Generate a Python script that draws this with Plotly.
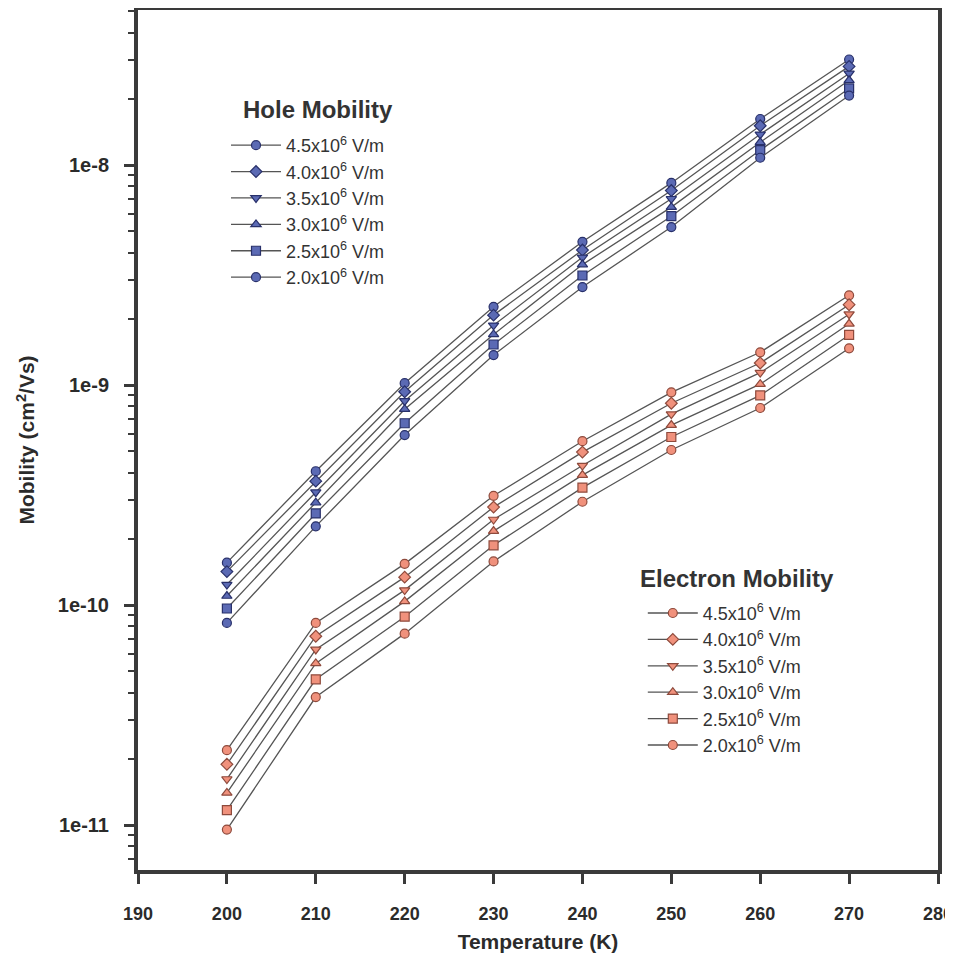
import plotly.graph_objects as go

temperature = [200, 210, 220, 230, 240, 250, 260, 270]
field_labels = ["4.5x10<sup>6</sup> V/m", "4.0x10<sup>6</sup> V/m", "3.5x10<sup>6</sup> V/m",
                "3.0x10<sup>6</sup> V/m", "2.5x10<sup>6</sup> V/m", "2.0x10<sup>6</sup> V/m"]
symbols = ["circle", "diamond", "triangle-down", "triangle-up", "square", "circle"]

hole_45 = [1.56e-10, 4.06e-10, 1.02e-9, 2.27e-9, 4.48e-9, 8.30e-9, 1.62e-8, 3.02e-8]
hole_40 = [1.42e-10, 3.66e-10, 9.33e-10, 2.08e-9, 4.11e-9, 7.66e-9, 1.51e-8, 2.81e-8]
hole_35 = [1.24e-10, 3.26e-10, 8.47e-10, 1.87e-9, 3.81e-9, 7.03e-9, 1.38e-8, 2.61e-8]
hole_30 = [1.10e-10, 2.92e-10, 7.77e-10, 1.70e-9, 3.53e-9, 6.44e-9, 1.27e-8, 2.43e-8]
hole_25 = [9.65e-11, 2.61e-10, 6.71e-10, 1.53e-9, 3.15e-9, 5.86e-9, 1.17e-8, 2.23e-8]
hole_20 = [8.30e-11, 2.28e-10, 5.93e-10, 1.37e-9, 2.79e-9, 5.23e-9, 1.08e-8, 2.07e-8]

elec_45 = [2.19e-11, 8.30e-11, 1.54e-10, 3.14e-10, 5.56e-10, 9.27e-10, 1.41e-9, 2.56e-9]
elec_40 = [1.89e-11, 7.22e-11, 1.34e-10, 2.79e-10, 4.96e-10, 8.27e-10, 1.26e-9, 2.32e-9]
elec_35 = [1.62e-11, 6.29e-11, 1.17e-10, 2.45e-10, 4.31e-10, 7.38e-10, 1.14e-9, 2.10e-9]
elec_30 = [1.40e-11, 5.43e-11, 1.04e-10, 2.17e-10, 3.90e-10, 6.58e-10, 1.01e-9, 1.90e-9]
elec_25 = [1.17e-11, 4.60e-11, 8.86e-11, 1.87e-10, 3.42e-10, 5.81e-10, 8.98e-10, 1.69e-9]
elec_20 = [9.54e-12, 3.82e-11, 7.42e-11, 1.58e-10, 2.95e-10, 5.07e-10, 7.87e-10, 1.47e-9]

hole_series = [hole_45, hole_40, hole_35, hole_30, hole_25, hole_20]
elec_series = [elec_45, elec_40, elec_35, elec_30, elec_25, elec_20]

y_tickvals = [1e-11, 1e-10, 1e-9, 1e-8]
y_ticktext = ["1e-11", "1e-10", "1e-9", "1e-8"]
x_tickvals = [190, 200, 210, 220, 230, 240, 250, 260, 270, 280]

fig = go.Figure()
line_col = "#555555"
for name, sym, vals in zip(field_labels, symbols, hole_series):
    fig.add_trace(go.Scatter(
        x=temperature, y=vals, mode="lines+markers", name=name, legend="legend",
        line=dict(color=line_col, width=1.3),
        marker=dict(symbol=sym, size=9, color="#5b6ab4", line=dict(color="#28306a", width=1.2)),
    ))
for name, sym, vals in zip(field_labels, symbols, elec_series):
    fig.add_trace(go.Scatter(
        x=temperature, y=vals, mode="lines+markers", name=name, legend="legend2",
        line=dict(color=line_col, width=1.3),
        marker=dict(symbol=sym, size=9, color="#f0917c", line=dict(color="#8e4a3c", width=1.2)),
    ))

axis_col = "#3a3a3a"
fontfam = "Liberation Sans, Arial, sans-serif"
fig.update_layout(
    width=945, height=952,
    margin=dict(l=130, r=15, t=2, b=90),
    paper_bgcolor="white", plot_bgcolor="white",
    font=dict(family=fontfam, color="#2b2b2b"),
    showlegend=True,
    legend=dict(
        x=0.11, y=0.864, xanchor="left", yanchor="top",
        font=dict(size=18, color="#333333"), bgcolor="rgba(0,0,0,0)",
        itemwidth=50, tracegroupgap=0,
    ),
    legend2=dict(
        x=0.631, y=0.320, xanchor="left", yanchor="top",
        font=dict(size=18, color="#333333"), bgcolor="rgba(0,0,0,0)",
        itemwidth=50, tracegroupgap=0,
    ),
    annotations=[
        dict(text="<b>Hole Mobility</b>", xref="paper", yref="paper", x=0.225, y=0.884,
             xanchor="center", yanchor="middle", showarrow=False,
             font=dict(size=24, color="#333333", family=fontfam)),
        dict(text="<b>Electron Mobility</b>", xref="paper", yref="paper", x=0.749, y=0.3395,
             xanchor="center", yanchor="middle", showarrow=False,
             font=dict(size=24, color="#333333", family=fontfam)),
    ],
    xaxis=dict(
        range=[190, 280], tickvals=x_tickvals, ticks="outside", ticklen=10, tickwidth=3,
        tickcolor=axis_col, showline=True, linewidth=4, linecolor=axis_col, mirror=True,
        showgrid=False, zeroline=False, automargin=False, ticklabelstandoff=14,
        ticklabeloverflow="allow",
        tickfont=dict(size=18, family=fontfam, color="#2b2b2b", weight="bold"),
        title=dict(text="<b>Temperature (K)</b>", font=dict(size=21), standoff=13),
    ),
    yaxis=dict(
        type="log", range=[-11.204, -7.295], tickvals=y_tickvals, ticktext=y_ticktext,
        ticks="outside", ticklen=10, tickwidth=3, tickcolor=axis_col,
        minor=dict(ticks="outside", ticklen=6, tickwidth=2, tickcolor=axis_col, dtick="D1"),
        showline=True, linewidth=4, linecolor=axis_col, mirror=True,
        showgrid=False, zeroline=False, automargin=False, ticklabelstandoff=11,
        tickfont=dict(size=20, family=fontfam, color="#2b2b2b", weight="bold"),
        title=dict(text="<b>Mobility (cm<sup>2</sup>/Vs)</b>", font=dict(size=21), standoff=18),
    ),
)

fig.write_html("out.html")
